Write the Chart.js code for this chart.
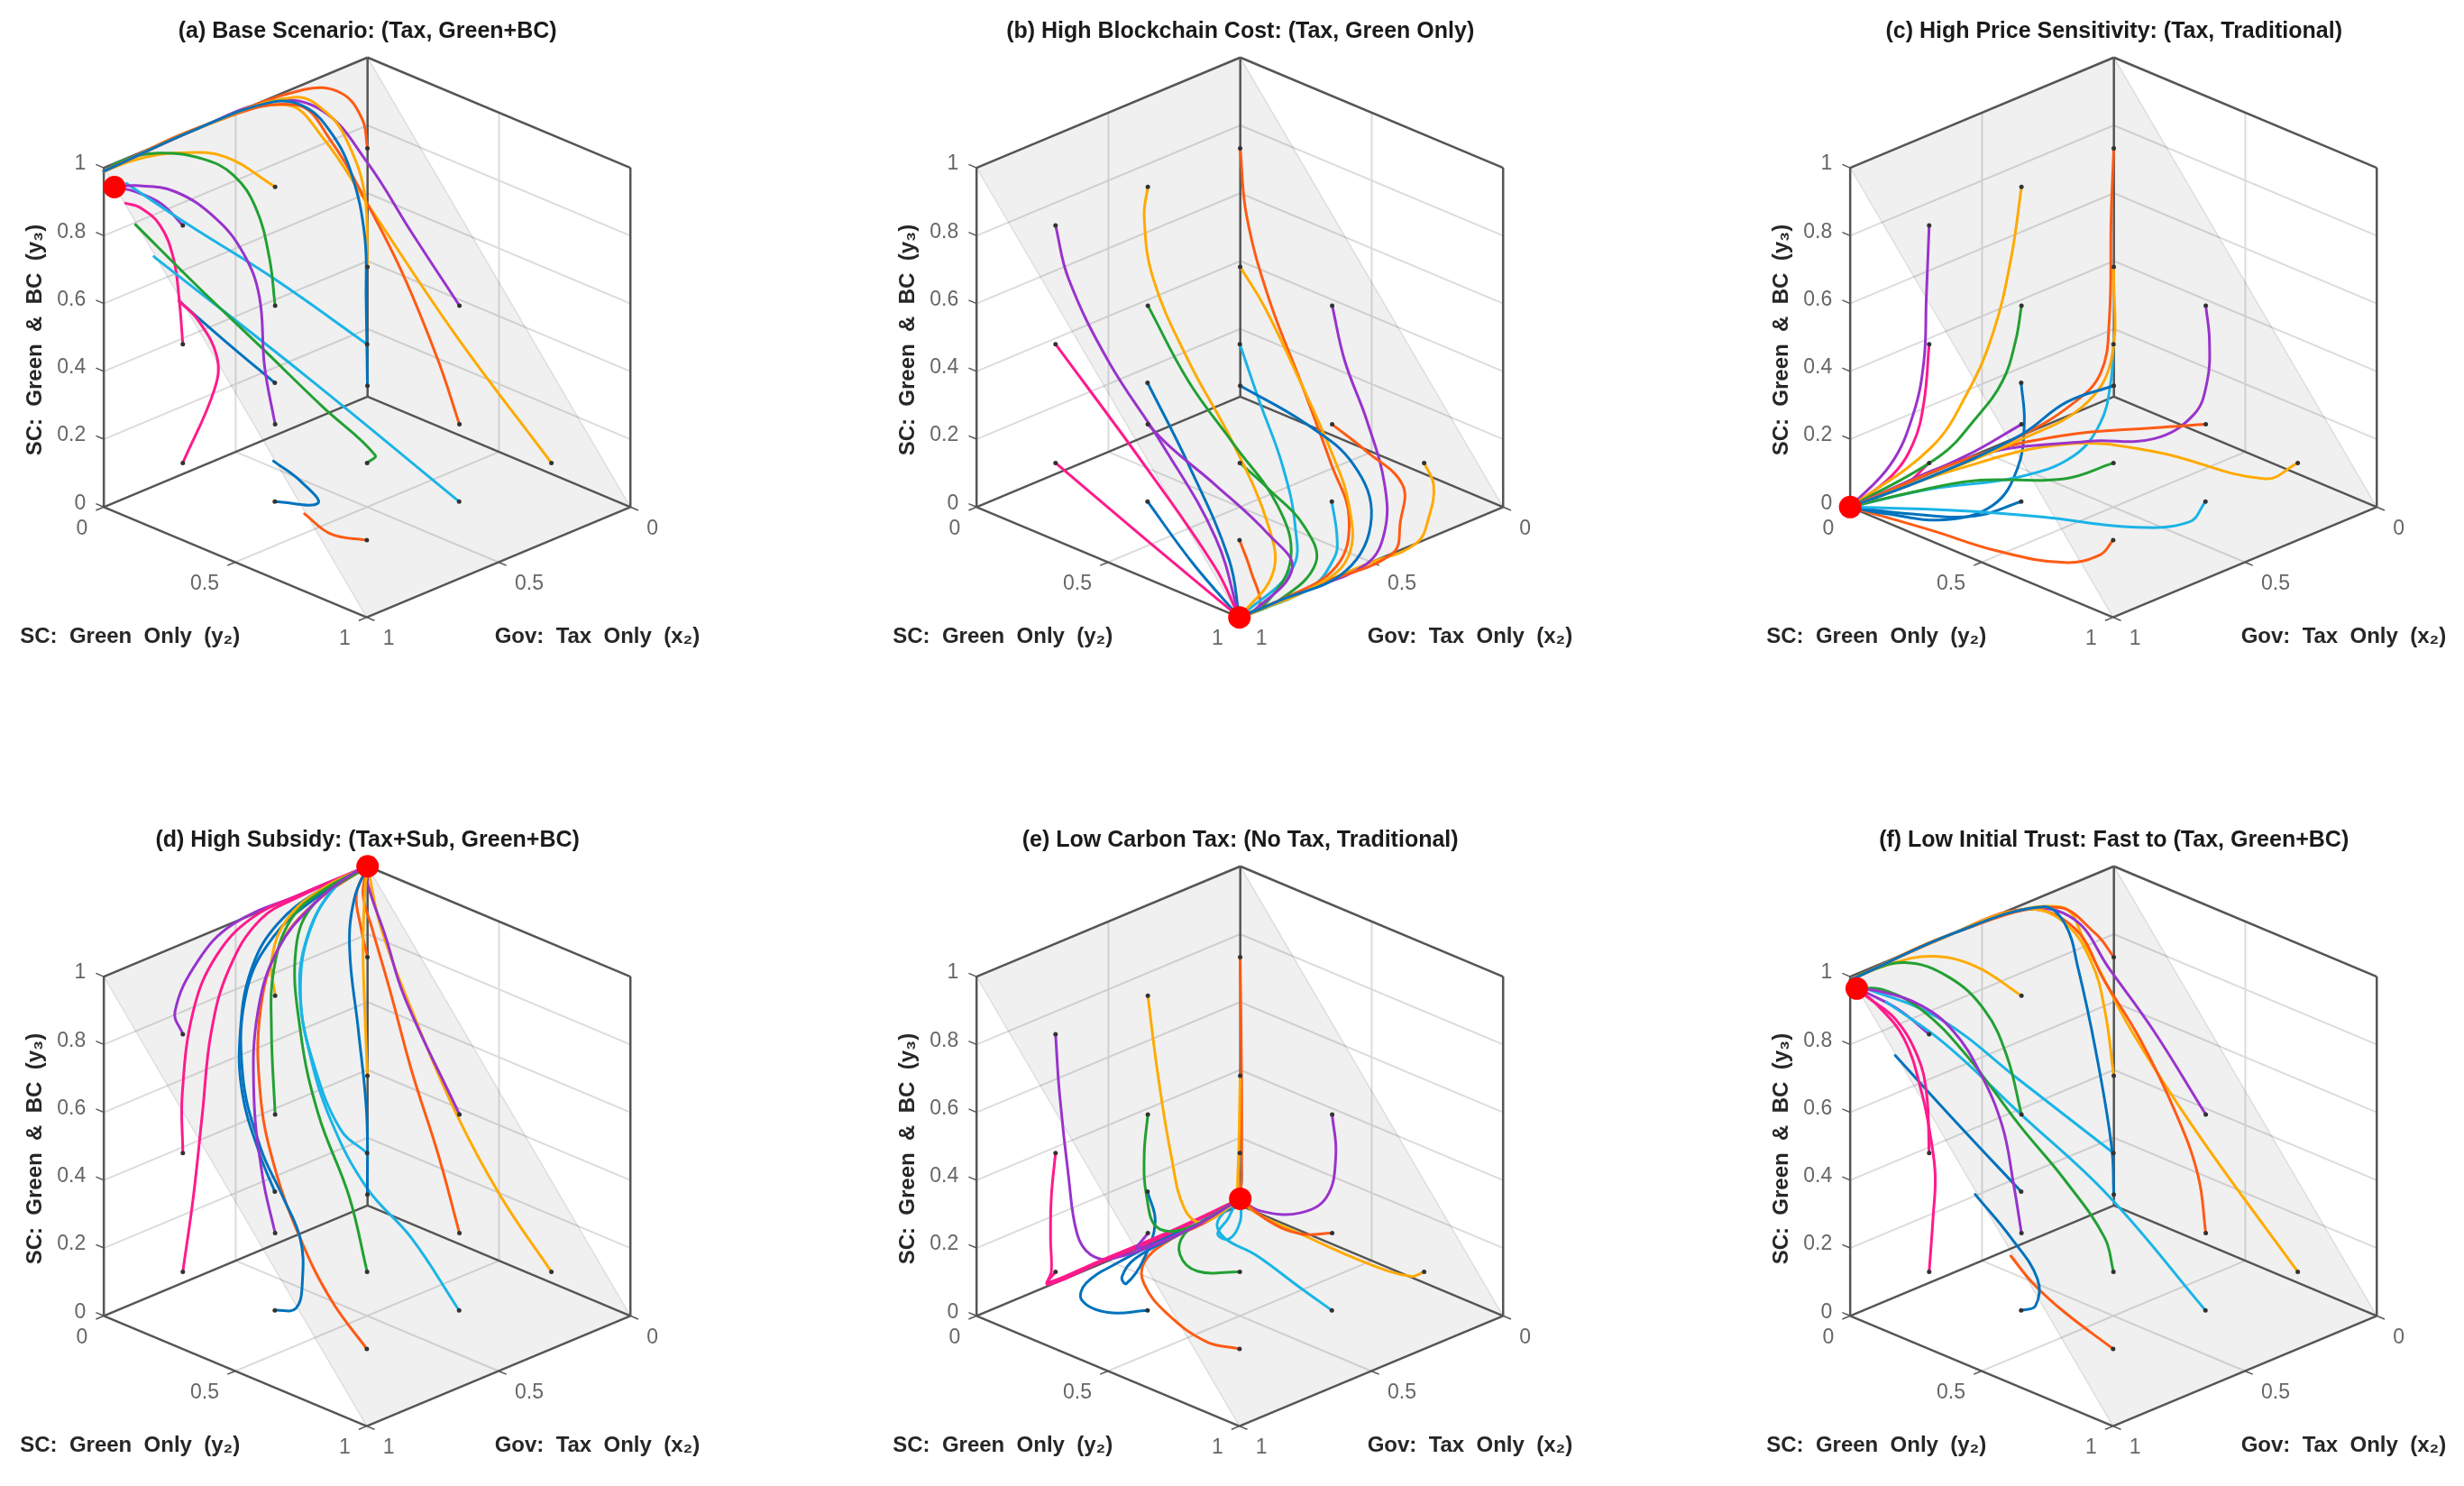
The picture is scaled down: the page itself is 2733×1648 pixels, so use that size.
<!DOCTYPE html>
<html>
<head>
<meta charset="utf-8">
<title>Evolutionary trajectories</title>
<script src="https://cdn.jsdelivr.net/npm/chart.js@4.4.1/dist/chart.umd.min.js"></script>
<style>
    html, body { margin: 0; padding: 0; background: #fff; overflow: hidden; }
    #wrap { position: relative; width: 2733px; height: 1648px; }
    .panel { position: absolute; width: 796px; height: 760px; }
</style>
</head>
<body>
<div id="wrap">
    <div class="panel" style="left:0px;top:0px"><canvas id="p0" width="796" height="760"></canvas></div>
    <div class="panel" style="left:968px;top:0px"><canvas id="p1" width="796" height="760"></canvas></div>
    <div class="panel" style="left:1937px;top:0px"><canvas id="p2" width="796" height="760"></canvas></div>
    <div class="panel" style="left:0px;top:897px"><canvas id="p3" width="796" height="760"></canvas></div>
    <div class="panel" style="left:968px;top:897px"><canvas id="p4" width="796" height="760"></canvas></div>
    <div class="panel" style="left:1937px;top:897px"><canvas id="p5" width="796" height="760"></canvas></div>
</div>
<script>
// ---- data ----
const panelTitles = [
    '(a) Base Scenario: (Tax, Green+BC)',
    '(b) High Blockchain Cost: (Tax, Green Only)',
    '(c) High Price Sensitivity: (Tax, Traditional)',
    '(d) High Subsidy: (Tax+Sub, Green+BC)',
    '(e) Low Carbon Tax: (No Tax, Traditional)',
    '(f) Low Initial Trust: Fast to (Tax, Green+BC)'
];

// initial points (same 18 starts in every scenario)
const initX2 = [0.15, 0.15, 0.15, 0.15, 0.15, 0.15, 0.5, 0.5, 0.5, 0.5, 0.5, 0.5, 0.85, 0.85, 0.85, 0.85, 0.85, 0.85];
const initY2 = [0.15, 0.15, 0.15, 0.5, 0.5, 0.85, 0.15, 0.15, 0.15, 0.5, 0.5, 0.85, 0.15, 0.15, 0.15, 0.5, 0.5, 0.85];
const initY3 = [0.13, 0.48, 0.83, 0.13, 0.48, 0.13, 0.13, 0.48, 0.83, 0.13, 0.48, 0.13, 0.13, 0.48, 0.83, 0.13, 0.48, 0.13];

const trajColors = ['#0072BD', '#FFAA00', '#FF5A14', '#FF5A14', '#9933CC', '#FFAA00',
    '#9933CC', '#22A033', '#FFAA00', '#22A033', '#1AB4E6', '#1AB4E6',
    '#FF1A8C', '#FF1A8C', '#9933CC', '#0072BD', '#0072BD', '#FF5A14'];

// stable point of each scenario (x2, y2, y3)
const eqX2 = [0.96, 1, 1, 0, 0, 0.98];
const eqY2 = [0, 1, 0, 0, 0, 0.005];
const eqY3 = [0.93, 0, 0, 1, 0.02, 0.96];

// trajectory points after the start, [x2, y2, y3]
const pathsA = [
    [[.15,.145,.384],[.15,.14,.565],[.17,.11,.747],[.2,.065,.861],[.26,.023,.946],[.37,.005,.99],[.65,0,1],[1,0,.99]],
    [[.14,.13,.68],[.16,.092,.82],[.2,.048,.916],[.29,.01,.98],[.65,0,1],[1,0,.99]],
    [[.12,.1,.89],[.15,.05,.96],[.25,.01,.99],[.6,0,1],[1,0,.99]],
    [[.15,.42,.29],[.14,.275,.496],[.13,.13,.653],[.16,.025,.81],[.28,.01,.954],[.6,0,1],[1,0,.99]],
    [[.14,.309,.629],[.12,.12,.768],[.2,.031,.917],[.36,.005,.99],[.65,0,1],[1,0,.99]],
    [[.14,.478,.38],[.13,.13,.653],[.18,.011,.825],[.31,.005,.962],[.6,0,1],[1,0,.99]],
    [[.52,.13,.3],[.52,.11,.5],[.56,.09,.633],[.63,.055,.748],[.75,.02,.855],[.89,.01,.915],[.96,0,.93]],
    [[.52,.148,.627],[.55,.127,.776],[.6,.092,.878],[.66,.034,.927],[.8,.005,.98],[.93,0,.998],[1,0,.99]],
    [[.62,.08,.935],[.73,.02,.963],[.87,.005,.986],[1,0,.99]],
    [[.5,.53,.163],[.58,.41,.293],[.67,.264,.452],[.77,.127,.616],[.89,.01,.8]],
    [[.65,.295,.656],[.81,.133,.813],[.94,.026,.943]],
    [[.7,.47,.44],[.9,.09,.735]],
    [[.85,.27,.385],[.87,.3,.498],[.9,.257,.603],[.92,.206,.648]],
    [[.87,.156,.622],[.89,.154,.749],[.91,.123,.842],[.93,.067,.882],[.95,.033,.89]],
    [[.89,.11,.893],[.93,.05,.923],[.96,0,.93]],
    [[.78,.594,.133],[.82,.566,.203],[.86,.505,.254]],
    [[.88,.347,.559],[.92,.206,.648]],
    [[.88,.745,.123],[.9,.663,.163]]
];
const pathsB = [
    [[.2,.445,.133],[.25,.68,.104],[.35,.85,.033],[.585,.99,0],[.856,1,0],[1,1,0]],
    [[.17,.263,.405],[.2,.428,.25],[.26,.607,.12],[.35,.765,.042],[.51,.925,0],[.7,1,0],[1,1,0]],
    [[.15,.175,.637],[.17,.28,.434],[.2,.43,.25],[.28,.627,.096],[.4,.815,.038],[.59,.955,0],[.856,1,0],[1,1,0]],
    [[.18,.662,.112],[.25,.868,.104],[.34,.95,.05],[.42,1,0],[.7,1,0],[1,1,0]],
    [[.16,.558,.339],[.18,.662,.204],[.25,.8,.082],[.4,.95,.04],[.52,1,0],[.77,1,0],[1,1,0]],
    [[.17,.906,.09],[.24,.96,.04],[.33,1,0],[.52,1,0],[1,1,0]],
    [[.52,.258,.103],[.58,.487,.087],[.7,.81,.085],[.71,.91,.02],[.95,1,0],[1,1,0]],
    [[.52,.325,.32],[.56,.535,.218],[.65,.794,.149],[.735,.93,.068],[.868,.978,0],[1,1,0]],
    [[.5,.136,.738],[.5,.17,.567],[.52,.325,.38],[.58,.555,.231],[.7,.81,.109],[.766,.893,.02],[1,1,0]],
    [[.53,.64,.108],[.58,.825,.075],[.61,.899,0],[.856,1,0],[1,1,0]],
    [[.5,.576,.333],[.55,.711,.211],[.62,.831,.09],[.71,.91,.02],[1,1,0]],
    [[.56,.93,.07],[.58,.94,.02],[.73,1,0],[1,1,0]],
    [[.9,.54,.05],[1,1,0]],
    [[.88,.516,.255],[.95,.857,.085],[1,1,0]],
    [[.85,.199,.69],[.86,.361,.502],[.9,.604,.351],[.93,.84,.158],[1,1,0]],
    [[.92,.742,.05],[1,1,0]],
    [[.87,.675,.304],[.92,.88,.106],[1,1,0]],
    [[.88,.922,.075],[.92,.996,.004],[1,1,0]]
];
const pathsC = [
    [[.3,.12,.12],[.5,.145,.096],[.78,.086,.046],[1,0,0]],
    [[.18,.17,.22],[.28,.162,.115],[.5,.145,.083],[.78,.086,.046],[1,0,0]],
    [[.15,.14,.625],[.16,.143,.326],[.2,.15,.183],[.3,.14,.12],[.5,.14,.09],[.78,.086,.046],[1,0,0]],
    [[.2,.352,.088],[.4,.214,.086],[.62,.095,.058],[1,0,0]],
    [[.15,.514,.382],[.16,.515,.264],[.18,.485,.164],[.25,.402,.088],[.38,.28,.083],[.62,.095,.058],[1,0,0]],
    [[.2,.775,.075],[.32,.472,.096],[.45,.264,.092],[.7,.091,.04],[1,0,0]],
    [[.66,.1,.073],[1,0,0]],
    [[.52,.148,.383],[.56,.137,.271],[.63,.105,.174],[.74,.08,.092],[1,0,0]],
    [[.52,.131,.622],[.57,.113,.412],[.65,.092,.249],[.76,.066,.118],[1,0,0]],
    [[.6,.414,.088],[.75,.225,.07],[.85,.072,.016],[1,0,0]],
    [[.5,.49,.366],[.53,.48,.251],[.58,.428,.153],[.68,.325,.091],[.83,.136,.042],[1,0,0]],
    [[.55,.838,.082],[.62,.688,.041],[.72,.449,.026],[.85,.241,.02],[1,0,0]],
    [[.9,.105,.067],[1,0,0]],
    [[.87,.15,.315],[.9,.139,.2],[.94,.094,.1],[1,0,0]],
    [[.86,.149,.616],[.87,.15,.437],[.9,.139,.285],[.94,.094,.137],[1,0,0]],
    [[.9,.375,.063],[.95,.172,.02],[1,0,0]],
    [[.85,.512,.366],[.87,.506,.236],[.9,.443,.117],[.95,.307,.046],[.98,.117,.012],[1,0,0]],
    [[.88,.83,.09],[.9,.714,.036],[.93,.49,.007],[.97,.276,.012],[1,0,0]]
];
const pathsD = [
    [[.15,.147,.367],[.15,.116,.6],[.12,.052,.815],[.06,.01,.928],[0,0,1]],
    [[.15,.14,.67],[.1,.083,.818],[.04,.03,.952],[0,0,1]],
    [[.12,.095,.89],[.06,.018,.943],[0,0,1]],
    [[.15,.42,.334],[.14,.31,.539],[.12,.205,.742],[.08,.097,.876],[.04,.023,.938],[0,0,1]],
    [[.12,.26,.74],[.08,.148,.869],[.03,.03,.97],[0,0,1]],
    [[.16,.668,.295],[.15,.488,.478],[.12,.289,.708],[.07,.121,.882],[0,0,1]],
    [[.52,.122,.296],[.5,.069,.516],[.45,.035,.733],[.35,.012,.876],[.2,0,.957],[.07,0,.995],[0,0,1]],
    [[.48,.116,.708],[.38,.025,.829],[.29,0,.938],[.17,0,.984],[0,0,1]],
    [[.45,.086,.896],[.32,.015,.953],[.17,0,.99],[0,0,1]],
    [[.52,.452,.342],[.52,.334,.548],[.45,.196,.724],[.33,.059,.886],[.2,0,.957],[0,0,1]],
    [[.55,.448,.55],[.5,.297,.676],[.4,.146,.777],[.27,.033,.869],[.14,.005,.976],[0,0,1]],
    [[.5,.669,.284],[.5,.5,.376],[.48,.345,.514],[.43,.21,.661],[.36,.106,.788],[.25,.03,.898],[.12,0,.98],[0,0,1]],
    [[.82,.16,.345],[.76,.134,.561],[.68,.088,.763],[.56,.035,.891],[.41,.004,.978],[.25,0,.995],[0,0,1]],
    [[.84,.138,.649],[.75,.09,.848],[.6,.025,.937],[.44,0,.99],[.25,0,1],[0,0,1]],
    [[.84,.11,.88],[.67,.027,.948],[.508,0,.996],[.25,0,1],[0,0,1]],
    [[.83,.56,.149],[.79,.545,.216],[.75,.496,.309],[.72,.4,.39],[.7,.294,.496],[.62,.146,.642],[.5,.043,.813],[.36,.005,.913],[.2,0,.97],[0,0,1]],
    [[.8,.394,.536],[.72,.246,.645],[.6,.118,.748],[.47,.03,.86],[.34,0,.942],[.17,0,.99],[0,0,1]],
    [[.84,.705,.223],[.8,.546,.342],[.75,.395,.496],[.66,.254,.628],[.5,.094,.768],[.35,.012,.876],[.2,0,.957],[0,0,1]]
];
const pathsE = [
    [[.08,.08,.06],[0,0,.02]],
    [[.13,.125,.256],[.06,.05,.062],[0,0,.02]],
    [[.1,.105,.46],[.04,.045,.115],[0,0,.02]],
    [[.1,.328,.056],[.05,.16,.022],[0,0,.02]],
    [[.14,.504,.358],[.12,.45,.212],[.07,.298,.098],[.02,.096,.022],[0,0,.02]],
    [[.15,.8,.1],[.12,.6,.065],[.06,.288,.03],[.01,.07,.004],[0,0,.02]],
    [[.52,.131,.085],[.25,.055,.029],[0,0,.02]],
    [[.5,.136,.355],[.48,.125,.225],[.4,.087,.093],[.25,.055,.034],[0,0,.02]],
    [[.47,.157,.596],[.42,.158,.337],[.33,.119,.136],[.22,.076,.047],[0,0,.02]],
    [[.55,.389,.112],[.5,.272,.107],[.38,.169,.095],[.2,.073,.049],[0,0,.02]],
    [[.35,.355,.293],[.3,.258,.148],[.3,.215,.084],[.25,.208,.05],[.1,.1,.018],[0,0,.02]],
    [[.5,.728,.158],[.45,.509,.167],[.35,.291,.113],[.22,.135,.069],[0,0,.02]],
    [[.73,0,.01],[.54,0,.01],[.28,0,.01],[0,0,.02]],
    [[.85,.134,.346],[.85,.131,.223],[.82,.104,.107],[.73,0,.005],[.54,0,.005],[.28,0,.005],[0,0,.02]],
    [[.83,.145,.648],[.8,.149,.396],[.76,.142,.209],[.68,.113,.113],[.55,.068,.045],[.22,.025,.009],[0,0,.02]],
    [[.85,.35,.075],[.85,.25,.079],[.75,.166,.069],[.6,.135,.07],[.38,.1,.061],[.17,.06,.04],[0,0,.02]],
    [[.8,.479,.368],[.77,.406,.225],[.72,.289,.098],[.67,.222,.08],[.55,.152,.072],[.32,.092,.051],[0,0,.02]],
    [[.88,.753,.13],[.85,.571,.146],[.78,.416,.159],[.68,.316,.155],[.5,.221,.127],[.22,.11,.067],[0,0,.02]]
];
const pathsF = [
    [[.16,.152,.274],[.2,.132,.562],[.22,.085,.797],[.23,.044,.92],[.28,.01,.975],[.6,0,1],[1,0,.99]],
    [[.17,.136,.675],[.2,.115,.82],[.24,.05,.93],[.35,.01,.99],[.65,0,1],[1,0,.99]],
    [[.17,.1,.89],[.25,.03,.97],[.6,0,1],[1,0,.99]],
    [[.16,.481,.296],[.16,.397,.452],[.16,.26,.627],[.17,.136,.76],[.2,.048,.9],[.35,.01,.99],[.65,0,1],[1,0,.99]],
    [[.15,.302,.662],[.15,.133,.79],[.2,.048,.925],[.35,.01,.99],[.65,0,1],[1,0,.99]],
    [[.15,.471,.412],[.15,.218,.634],[.17,.07,.837],[.23,.027,.964],[.6,0,1],[1,0,.99]],
    [[.52,.14,.278],[.55,.127,.455],[.6,.092,.618],[.67,.061,.752],[.76,.032,.846],[.89,.01,.923],[.98,.005,.96]],
    [[.52,.114,.648],[.57,.08,.787],[.66,.034,.899],[.8,.005,.978],[.965,0,.995]],
    [[.6,.075,.925],[.71,.016,.971],[.865,.002,.99],[.99,0,.99]],
    [[.52,.486,.233],[.58,.394,.393],[.65,.295,.542],[.74,.182,.742],[.82,.092,.873],[.91,.03,.943],[.98,.005,.96]],
    [[.65,.295,.676],[.79,.13,.85],[.95,.019,.952],[.98,.005,.96]],
    [[.6,.583,.412],[.7,.345,.611],[.8,.157,.79],[.9,.037,.905]],
    [[.85,.165,.296],[.84,.163,.414],[.84,.146,.519],[.85,.122,.648],[.88,.085,.805],[.93,.033,.904],[.98,.005,.96]],
    [[.86,.15,.66],[.88,.135,.772],[.91,.08,.873],[.96,.029,.934],[.98,.005,.96]],
    [[.9,.088,.897],[.95,.02,.94],[.98,.005,.96]],
    [[.82,.524,.141],[.8,.512,.21],[.82,.431,.312],[.85,.325,.415]],
    [[.88,.288,.621],[.92,.091,.771]],
    [[.88,.694,.198],[.9,.595,.257],[.9,.511,.31]]
];
const allPaths = [pathsA, pathsB, pathsC, pathsD, pathsE, pathsF];

// axis ticks
const zTicks = [0, 0.2, 0.4, 0.6, 0.8, 1];
const zTickLabels = ['0', '0.2', '0.4', '0.6', '0.8', '1'];
const xyTicks = [0, 0.5, 1];
const xyTickLabels = ['0', '0.5', '1'];

// ---- view: fixed 3D -> 2D projection (canvas units) ----
const W = 796, H = 760, OX = 408, OY = 442;
function proj(p) {
    return { x: OX - 302 * p[0] + 301 * p[1], y: OY + 126.5 * (p[0] + p[1]) - 389 * p[2] };
}

const FONT = '"Liberation Sans", Arial, Helvetica, sans-serif';

// box, grid, simplex plane and all axis text
const frame3d = {
    id: 'frame3d',
    beforeDatasetsDraw(chart, args, opts) {
        const ctx = chart.ctx;
        const sx = chart.scales.x, sy = chart.scales.y;
        const P = p => { const q = proj(p); return [sx.getPixelForValue(q.x), sy.getPixelForValue(q.y)]; };
        const seg = (a, b, color, w) => {
            const p1 = P(a), p2 = P(b);
            ctx.strokeStyle = color;
            ctx.lineWidth = w;
            ctx.beginPath();
            ctx.moveTo(p1[0], p1[1]);
            ctx.lineTo(p2[0], p2[1]);
            ctx.stroke();
        };
        ctx.save();

        // grid on floor and back walls
        const grid = '#dcdcdc';
        seg([0.5, 0, 0], [0.5, 1, 0], grid, 2);
        seg([0, 0.5, 0], [1, 0.5, 0], grid, 2);
        seg([0.5, 0, 0], [0.5, 0, 1], grid, 2);
        seg([0, 0.5, 0], [0, 0.5, 1], grid, 2);
        zTicks.slice(1, -1).forEach(z => {
            seg([0, 0, z], [1, 0, z], grid, 2);
            seg([0, 0, z], [0, 1, z], grid, 2);
        });

        // plane y2 + y3 = 1
        const q = [[1, 0, 1], [0, 0, 1], [0, 1, 0], [1, 1, 0]].map(P);
        ctx.beginPath();
        q.forEach((p, i) => i ? ctx.lineTo(p[0], p[1]) : ctx.moveTo(p[0], p[1]));
        ctx.closePath();
        ctx.fillStyle = 'rgba(0,0,0,0.06)';
        ctx.fill();
        ctx.strokeStyle = 'rgba(0,0,0,0.10)';
        ctx.lineWidth = 1.5;
        ctx.stroke();

        // box edges (back faces)
        const edge = '#555555';
        [[[0,0,0],[1,0,0]], [[0,0,0],[0,1,0]], [[0,0,0],[0,0,1]],
         [[1,0,0],[1,0,1]], [[0,1,0],[0,1,1]],
         [[0,0,1],[1,0,1]], [[0,0,1],[0,1,1]],
         [[1,0,0],[1,1,0]], [[0,1,0],[1,1,0]]].forEach(e => seg(e[0], e[1], edge, 2.5));

        // tick marks
        zTicks.forEach(z => seg([1, 0, z], [1, -0.03, z], edge, 1.5));
        xyTicks.forEach(v => {
            seg([1, v, 0], [1.03, v, 0], edge, 1.5);
            seg([v, 1, 0], [v, 1.03, 0], edge, 1.5);
        });

        // tick labels
        ctx.font = '23px ' + FONT;
        ctx.fillStyle = '#666666';
        ctx.textBaseline = 'middle';
        ctx.textAlign = 'right';
        zTicks.forEach((z, i) => {
            const p = P([1, 0, z]);
            ctx.fillText(zTickLabels[i], p[0] - 20, p[1] - 4);
        });
        xyTicks.forEach((v, i) => {
            const p = P([1, v, 0]);
            ctx.fillText(xyTickLabels[i], p[0] - 18, p[1] + 24);
        });
        ctx.textAlign = 'left';
        xyTicks.forEach((v, i) => {
            const p = P([v, 1, 0]);
            ctx.fillText(xyTickLabels[i], p[0] + 18, p[1] + 24);
        });

        // axis labels
        ctx.font = 'bold 24px ' + FONT;
        ctx.fillStyle = '#262626';
        ctx.textAlign = 'center';
        ctx.fillText('SC:  Green  Only  (y\u2082)', sx.getPixelForValue(OX - 272), sy.getPixelForValue(OY + 275));
        ctx.fillText('Gov:  Tax  Only  (x\u2082)', sx.getPixelForValue(OX + 263), sy.getPixelForValue(OY + 275));
        ctx.save();
        ctx.translate(sx.getPixelForValue(OX - 380), sy.getPixelForValue(OY - 65));
        ctx.rotate(-Math.PI / 2);
        ctx.fillText('SC:  Green  &  BC  (y\u2083)', 0, 0);
        ctx.restore();

        // title
        ctx.font = 'bold 25px ' + FONT;
        ctx.fillStyle = '#1a1a1a';
        ctx.fillText(opts.title, sx.getPixelForValue(OX), 35);
        ctx.restore();
    }
};

// ---- charts ----
allPaths.forEach((paths, k) => {
    const datasets = [];
    // stable point
    datasets.push({
        data: [proj([eqX2[k], eqY2[k], eqY3[k]])],
        pointRadius: 12.5,
        pointBackgroundColor: '#FF0000',
        pointBorderWidth: 0,
        showLine: false,
        order: 0
    });
    // start markers
    datasets.push({
        data: initX2.map((x, i) => proj([x, initY2[i], initY3[i]])),
        pointRadius: 2.5,
        pointBackgroundColor: '#333333',
        pointBorderWidth: 0,
        showLine: false,
        order: 1
    });
    // trajectories
    paths.forEach((path, i) => {
        const pts = [[initX2[i], initY2[i], initY3[i]]].concat(path);
        datasets.push({
            data: pts.map(proj),
            showLine: true,
            borderColor: trajColors[i],
            borderWidth: 3,
            pointRadius: 0,
            tension: 0.4,
            borderCapStyle: 'round',
            borderJoinStyle: 'round',
            fill: false,
            order: 2
        });
    });

    new Chart(document.getElementById('p' + k), {
        type: 'scatter',
        data: { datasets: datasets },
        options: {
            responsive: false,
            animation: false,
            devicePixelRatio: 1,
            layout: { padding: 0 },
            scales: {
                x: { type: 'linear', display: false, min: 0, max: W },
                y: { type: 'linear', display: false, min: 0, max: H, reverse: true }
            },
            plugins: {
                legend: { display: false },
                tooltip: { enabled: false },
                frame3d: { title: panelTitles[k] }
            }
        },
        plugins: [frame3d]
    });
});
</script>
</body>
</html>
